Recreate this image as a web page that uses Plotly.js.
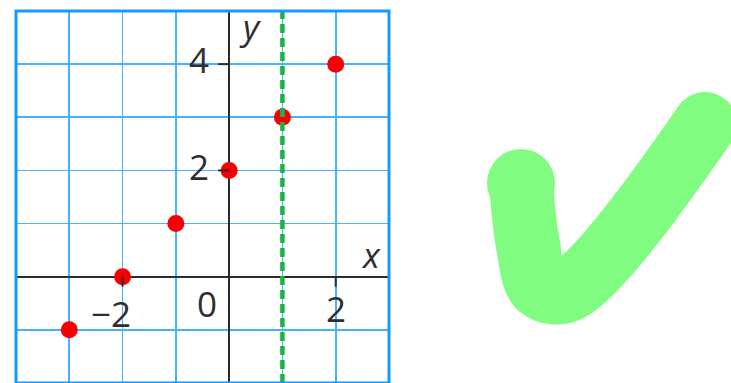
<!DOCTYPE html>
<html>
<head>
<meta charset="utf-8">
<script src="https://cdn.plot.ly/plotly-3.0.1.min.js"></script>
<style>
html,body{margin:0;padding:0;background:#fff;}
#chart{width:731px;height:383px;}
</style>
</head>
<body>
<div id="chart"></div>
<script>
// Points on the graph
const pointX = [-3, -2, -1, 0, 1, 2];
const pointY = [-1, 0, 1, 2, 3, 4];
// Vertical dashed line x = 1
const dashedLineX = [1];
// Axis ranges
const xRange = [-4, 3];
const yRange = [-2, 5];
// Tick labels
const xTickVals = [-2, 0, 2];
const xTickText = ['\u22122', '0', '2'];
const yTickVals = [2, 4];
const yTickText = ['2', '4'];
// Tick marks
const xTickMarks = [-2, 2];
const yTickMarks = [2, 4];
// Check mark stroke (pixel space of the page)
const checkX = [521, 528, 540, 568, 705];
const checkY = [183, 245, 287, 290, 124];
const checkCapX = [521, 705];
const checkCapY = [183, 124];

const W = 731, H = 383;
const textColor = '#2e2e2e';
const font = 'Open Sans, Noto Sans, sans-serif';
const green = '#80fd80';

const traces = [
  {
    x: pointX, y: pointY, type: 'scatter', mode: 'markers',
    marker: {color: '#f70000', size: 17, opacity: 1},
    xaxis: 'x', yaxis: 'y', hoverinfo: 'skip'
  },
  {
    x: [dashedLineX[0], dashedLineX[0]], y: yRange, type: 'scatter', mode: 'lines',
    line: {color: '#19b444', width: 4.5, dash: '9px,5px'},
    xaxis: 'x', yaxis: 'y', hoverinfo: 'skip'
  },
  {
    x: checkX, y: checkY, type: 'scatter', mode: 'lines',
    line: {color: green, width: 64, shape: 'spline', smoothing: 1},
    xaxis: 'x2', yaxis: 'y2', hoverinfo: 'skip'
  },
  {
    x: checkCapX, y: checkCapY, type: 'scatter', mode: 'markers',
    marker: {color: green, size: [68, 64], opacity: 1, line: {width: 0}},
    xaxis: 'x2', yaxis: 'y2', hoverinfo: 'skip'
  }
];

const annotations = [];
const xShift = [-12, -22, 0], xYShift = [-37, -27, -32];
xTickVals.forEach((v, i) => annotations.push({
  x: v, y: 0, xref: 'x', yref: 'y', text: xTickText[i], showarrow: false,
  xshift: xShift[i], yshift: xYShift[i],
  font: {family: font, size: 35, color: textColor}
}));
const yYShift = [4, 5];
yTickVals.forEach((v, i) => annotations.push({
  x: 0, y: v, xref: 'x', yref: 'y', text: yTickText[i], showarrow: false,
  xshift: -30, yshift: yYShift[i],
  font: {family: font, size: 35, color: textColor}
}));
annotations.push({x: 0, y: yRange[1], xref: 'x', yref: 'y', text: '<i>y</i>', showarrow: false,
  xshift: 21, yshift: -15, font: {family: font, size: 35, color: textColor}});
annotations.push({x: xRange[1], y: 0, xref: 'x', yref: 'y', text: '<i>x</i>', showarrow: false,
  xshift: -18, yshift: 22, font: {family: font, size: 35, color: textColor}});

const shapes = [];
xTickMarks.forEach(v => shapes.push({
  type: 'line', xref: 'x', yref: 'y', x0: v, x1: v,
  ysizemode: 'pixel', yanchor: 0, y0: -10, y1: 0,
  line: {color: textColor, width: 2}, layer: 'above'
}));
yTickMarks.forEach(v => shapes.push({
  type: 'line', xref: 'x', yref: 'y', y0: v, y1: v,
  xsizemode: 'pixel', xanchor: 0, x0: -11, x1: 0,
  line: {color: textColor, width: 2}, layer: 'above'
}));
shapes.push({
  type: 'rect', xref: 'x domain', yref: 'y domain', x0: 0, x1: 1, y0: 0, y1: 1,
  line: {color: '#1798ff', width: 3}, layer: 'above'
});

const layout = {
  width: W, height: H,
  margin: {l: 0, r: 0, t: 0, b: 0},
  paper_bgcolor: '#ffffff', plot_bgcolor: 'rgba(0,0,0,0)',
  showlegend: false,
  xaxis: {
    domain: [16 / W, 389 / W], range: xRange, anchor: 'y',
    dtick: 1, tick0: 0, showgrid: true, gridcolor: '#47b2ff', gridwidth: 1.8,
    zeroline: true, zerolinecolor: '#2b2b2b', zerolinewidth: 2,
    showticklabels: false, ticks: '', showline: false, fixedrange: true
  },
  yaxis: {
    domain: [0, 1 - 11 / H], range: yRange, anchor: 'x',
    dtick: 1, tick0: 0, showgrid: true, gridcolor: '#47b2ff', gridwidth: 1.8,
    zeroline: true, zerolinecolor: '#2b2b2b', zerolinewidth: 2,
    showticklabels: false, ticks: '', showline: false, fixedrange: true
  },
  xaxis2: {domain: [0, 1], range: [0, W], anchor: 'y2', visible: false, fixedrange: true},
  yaxis2: {domain: [0, 1], range: [H, 0], anchor: 'x2', visible: false, fixedrange: true},
  annotations: annotations,
  shapes: shapes
};

Plotly.newPlot('chart', traces, layout, {displayModeBar: false, staticPlot: true});
</script>
</body>
</html>
